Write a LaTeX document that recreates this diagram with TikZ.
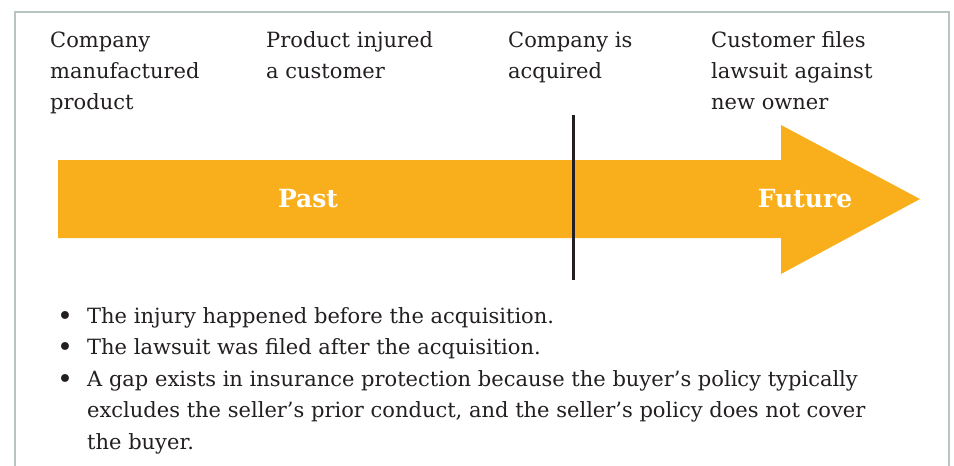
\documentclass[tikz,border=0pt]{standalone}
\usepackage{fontspec}
\setmainfont{DejaVu Serif}
\usepackage{tikz}
\usetikzlibrary{positioning}
\definecolor{amber}{HTML}{F9AF1B}
\definecolor{ink}{HTML}{231F20}
\definecolor{framegray}{HTML}{B8C5C1}

\begin{document}
\begin{tikzpicture}[
    x=1pt, y=-1pt,
    event/.style={anchor=base west, align=left, inner sep=0pt, text=ink, font=\fontsize{21}{31}\selectfont},
    point/.style={anchor=base west, align=left, inner sep=0pt, text=ink, font=\fontsize{21}{31.5}\selectfont},
    dot/.style={anchor=base west, inner sep=0pt, text=ink, font=\fontsize{27}{31}\selectfont},
    era/.style={text=white, font=\fontsize{25}{30}\selectfont\bfseries},
    cut/.style={line width=3pt, ink}
]
\useasboundingbox (0,0) rectangle (954,466);

% Frame (open at the bottom)
\draw[framegray, line width=1.5pt] (15,480) -- (15,12) -- (949,12) -- (949,480);

% Timeline arrow
\fill[amber] (58,160) -- (781,160) -- (781,125) -- (920,199) -- (781,274) -- (781,238) -- (58,238) -- cycle;

\node[era] (past) at (308,199) {Past};
\node[era] (future) at (805,199) {Future};

% Acquisition marker
\coordinate (cut top) at (573,115);
\coordinate (cut bottom) at (573,280);
\draw[cut] (cut top) -- (cut bottom);

% Events (top), placed by the baseline of their last line
\node[event] (made) at (50,109) {Company\\manufactured\\product};
\node[event] (injury) at (266,78) {Product injured\\a customer};
\node[event] (acquired) at (508,78) {Company is\\acquired};
\node[event] (lawsuit) at (711,109) {Customer files\\lawsuit against\\new owner};

% Notes (bottom)
\node[point] (before) at (87,323) {The injury happened before the acquisition.};
\node[point] (after) at (87,354) {The lawsuit was filed after the acquisition.};
\node[point] (gap) at (87,449) {A gap exists in insurance protection because the buyer’s policy typically\\excludes the seller’s prior conduct, and the seller’s policy does not cover\\the buyer.};

\node[dot] at ([xshift=-30pt, yshift=-2pt]before.base west) {\textbullet};
\node[dot] at ([xshift=-30pt, yshift=-2pt]after.base west) {\textbullet};
\node[dot] at ([xshift=-30pt, yshift=61pt]gap.base west) {\textbullet};

\end{tikzpicture}
\end{document}
